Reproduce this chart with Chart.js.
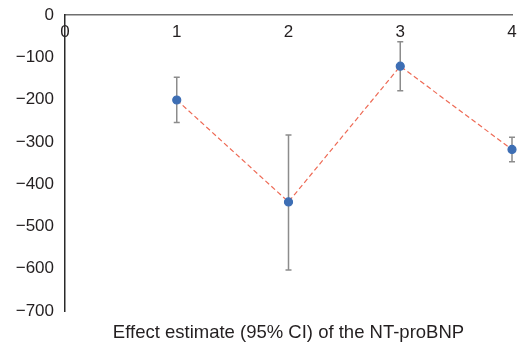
<!DOCTYPE html>
<html>
<head>
<meta charset="utf-8">
<script src="https://cdn.jsdelivr.net/npm/chart.js@4.4.0/dist/chart.umd.min.js"></script>
<style>
  html, body { margin: 0; padding: 0; background: #fff; }
  #wrap { width: 520px; height: 344px; }
</style>
</head>
<body>
<div id="wrap"><canvas id="effectChart" width="520" height="344"></canvas></div>
<script>
const xValues = [1, 2, 3, 4];
const estimates = [-201, -442, -121, -318];
const ciLower = [-254, -603, -179, -347];
const ciUpper = [-147, -284, -63, -289];

const textColor = "#231f20";
const fontFamily = "'Liberation Sans', Arial, Helvetica, sans-serif";

const points = xValues.map((x, i) => ({ x: x, y: estimates[i] }));

// whiskers for the 95% CI, drawn through the chart scales
const errorBars = {
  id: "errorBars",
  beforeDatasetsDraw(chart) {
    const ctx = chart.ctx;
    const xs = chart.scales.x;
    const ys = chart.scales.y;
    ctx.save();
    ctx.strokeStyle = "#8c8c8c";
    ctx.lineWidth = 1.5;
    for (let i = 0; i < xValues.length; i++) {
      const px = xs.getPixelForValue(xValues[i]);
      const top = ys.getPixelForValue(ciUpper[i]);
      const bot = ys.getPixelForValue(ciLower[i]);
      ctx.beginPath();
      ctx.moveTo(px, top);
      ctx.lineTo(px, bot);
      ctx.moveTo(px - 3, top);
      ctx.lineTo(px + 3, top);
      ctx.moveTo(px - 3, bot);
      ctx.lineTo(px + 3, bot);
      ctx.stroke();
    }
    ctx.restore();
  }
};

new Chart("effectChart", {
  type: "line",
  data: {
    datasets: [
      {
        data: points,
        borderColor: "#ee6a55",
        borderWidth: 1.2,
        borderDash: [5, 3],
        pointBackgroundColor: "#3d6eb4",
        pointBorderColor: "#3d6eb4",
        pointRadius: 4,
        pointHoverRadius: 4,
        tension: 0,
        clip: false,
      },
    ],
  },
  options: {
    responsive: false,
    animation: false,
    layout: { padding: { left: 0, right: 8, top: 15, bottom: 0 } },
    plugins: {
      legend: { display: false },
      tooltip: { enabled: false },
    },
    scales: {
      x: {
        type: "linear",
        position: { y: 0 },
        min: 0,
        max: 4,
        grid: { display: false, drawTicks: false },
        border: { display: true, color: "#6f6f6f", width: 1.5 },
        ticks: {
          stepSize: 1,
          padding: 7,
          color: textColor,
          font: { family: fontFamily, size: 17 },
        },
        afterFit(scale) {
          scale.paddingLeft = 0;
          scale.paddingRight = 0;
        },
      },
      x2: {
        type: "linear",
        position: "bottom",
        min: 0,
        max: 4,
        grid: { display: false, drawTicks: false },
        border: { display: false },
        ticks: { display: false },
        title: {
          display: true,
          text: "Effect estimate (95% CI) of the NT-proBNP",
          color: textColor,
          font: { family: fontFamily, size: 18.5 },
          padding: { top: 8, bottom: 0 },
        },
        afterFit(scale) {
          scale.height = 33;
          scale.paddingLeft = 0;
          scale.paddingRight = 0;
        },
      },
      y: {
        min: -700,
        max: 0,
        grid: { display: false, drawTicks: false },
        border: { display: true, color: "#2a2a2a", width: 1.5 },
        ticks: {
          stepSize: 100,
          padding: 11,
          color: textColor,
          font: { family: fontFamily, size: 17 },
          callback: (v) => String(v).replace("-", "\u2212"),
        },
        afterFit(scale) {
          scale.width = 65;
          scale.paddingTop = 0;
          scale.paddingBottom = 0;
        },
      },
    },
  },
  plugins: [errorBars],
});
</script>
</body>
</html>
